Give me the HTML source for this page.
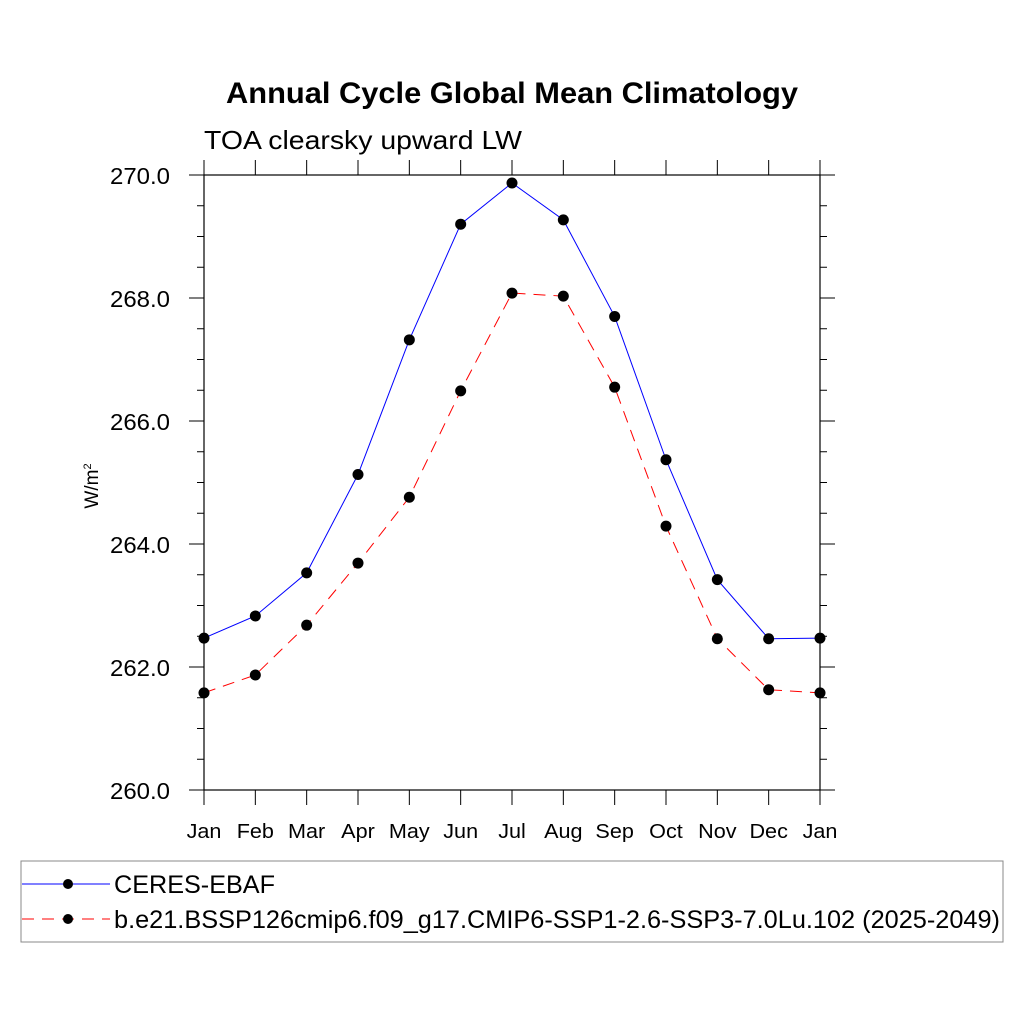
<!DOCTYPE html>
<html><head><meta charset="utf-8"><style>body{margin:0;background:#fff}svg{display:block}text{font-family:"Liberation Sans",sans-serif}</style></head>
<body>
<svg id="chart" width="1024" height="1024" viewBox="0 0 1024 1024">
<rect width="1024" height="1024" fill="#fff"/>
<text x="226" y="103" font-size="30" font-weight="bold" textLength="572" lengthAdjust="spacingAndGlyphs">Annual Cycle Global Mean Climatology</text>
<text x="204" y="149" font-size="26" textLength="318" lengthAdjust="spacingAndGlyphs">TOA clearsky upward LW</text>
<text transform="translate(98,486) rotate(-90)" font-size="19" text-anchor="middle">W/m<tspan font-size="11" dy="-7">2</tspan></text>
<g id="axes"></g>
<g id="series"></g>
<g>
<rect x="21" y="861" width="982" height="81" fill="#fff" stroke="#888" stroke-width="1"/>
<line x1="22" y1="884" x2="110" y2="884" stroke="#00f" stroke-width="1"/>
<circle cx="68" cy="884" r="5" fill="#000"/>
<text x="114" y="893" font-size="25" textLength="161" lengthAdjust="spacingAndGlyphs">CERES-EBAF</text>
<line x1="22" y1="919" x2="110" y2="919" stroke="#f00" stroke-width="1" stroke-dasharray="12,8"/>
<circle cx="68" cy="919" r="5" fill="#000"/>
<text x="114" y="928" font-size="25" textLength="886" lengthAdjust="spacingAndGlyphs">b.e21.BSSP126cmip6.f09_g17.CMIP6-SSP1-2.6-SSP3-7.0Lu.102 (2025-2049)</text>
</g>
</svg>
<script>
const months=["Jan","Feb","Mar","Apr","May","Jun","Jul","Aug","Sep","Oct","Nov","Dec","Jan"];
const ceres=[262.47,262.83,263.53,265.13,267.32,269.2,269.87,269.27,267.7,265.37,263.42,262.46,262.47];
const model=[261.58,261.87,262.68,263.69,264.76,266.49,268.08,268.03,266.55,264.29,262.46,261.63,261.58];
const yTicks=[260,262,264,266,268,270];
const NS="http://www.w3.org/2000/svg";
const X0=204,X1=820,Y0=790,Y1=175,VMIN=260,VMAX=270;
const xs=i=>X0+(X1-X0)*i/(months.length-1);
const ys=v=>Y0-(v-VMIN)*(Y0-Y1)/(VMAX-VMIN);
function mk(t,a,p){const e=document.createElementNS(NS,t);for(const k in a)e.setAttribute(k,a[k]);p.appendChild(e);return e;}
const ax=document.getElementById('axes');
const frame=mk('rect',{x:X0,y:Y1,width:X1-X0,height:Y0-Y1,fill:'none',stroke:'#000','stroke-width':1.2},ax);


for(let v=VMIN;v<=VMAX+1e-9;v+=0.5){const y=ys(v);const maj=Math.abs(v%2)<1e-6;const L=maj?15:7;
mk('line',{x1:X0-L,y1:y,x2:X0,y2:y,stroke:'#000','stroke-width':1},ax);
mk('line',{x1:X1,y1:y,x2:X1+L,y2:y,stroke:'#000','stroke-width':1},ax);}
yTicks.forEach(v=>{const t=mk('text',{x:170,y:ys(v)+9,'font-size':23,'text-anchor':'end',textLength:60,lengthAdjust:'spacingAndGlyphs'},ax);t.textContent=v.toFixed(1);

});
months.forEach((m,i)=>{const x=xs(i);
mk('line',{x1:x,y1:Y0,x2:x,y2:Y0+15,stroke:'#000','stroke-width':1},ax);
mk('line',{x1:x,y1:Y1-15,x2:x,y2:Y1,stroke:'#000','stroke-width':1},ax);
const t=mk('text',{x:x,y:838,'font-size':20,'text-anchor':'middle'},ax);t.textContent=m;


const w=t.getComputedTextLength();t.setAttribute('textLength',w*1.08);t.setAttribute('lengthAdjust','spacingAndGlyphs');});
const sg=document.getElementById('series');
function series(vals,color,dash,name){
const pl=mk('polyline',{points:vals.map((v,i)=>xs(i)+','+ys(v)).join(' '),fill:'none',stroke:color,'stroke-width':1,'stroke-dasharray':dash},sg);


vals.forEach((v,i)=>{const c=mk('circle',{cx:xs(i),cy:ys(v),r:5.5,fill:'#000'},sg);

});}
series(ceres,'#00f','none','ceres');
series(model,'#f00','12,8','model');
</script>
</body></html>
